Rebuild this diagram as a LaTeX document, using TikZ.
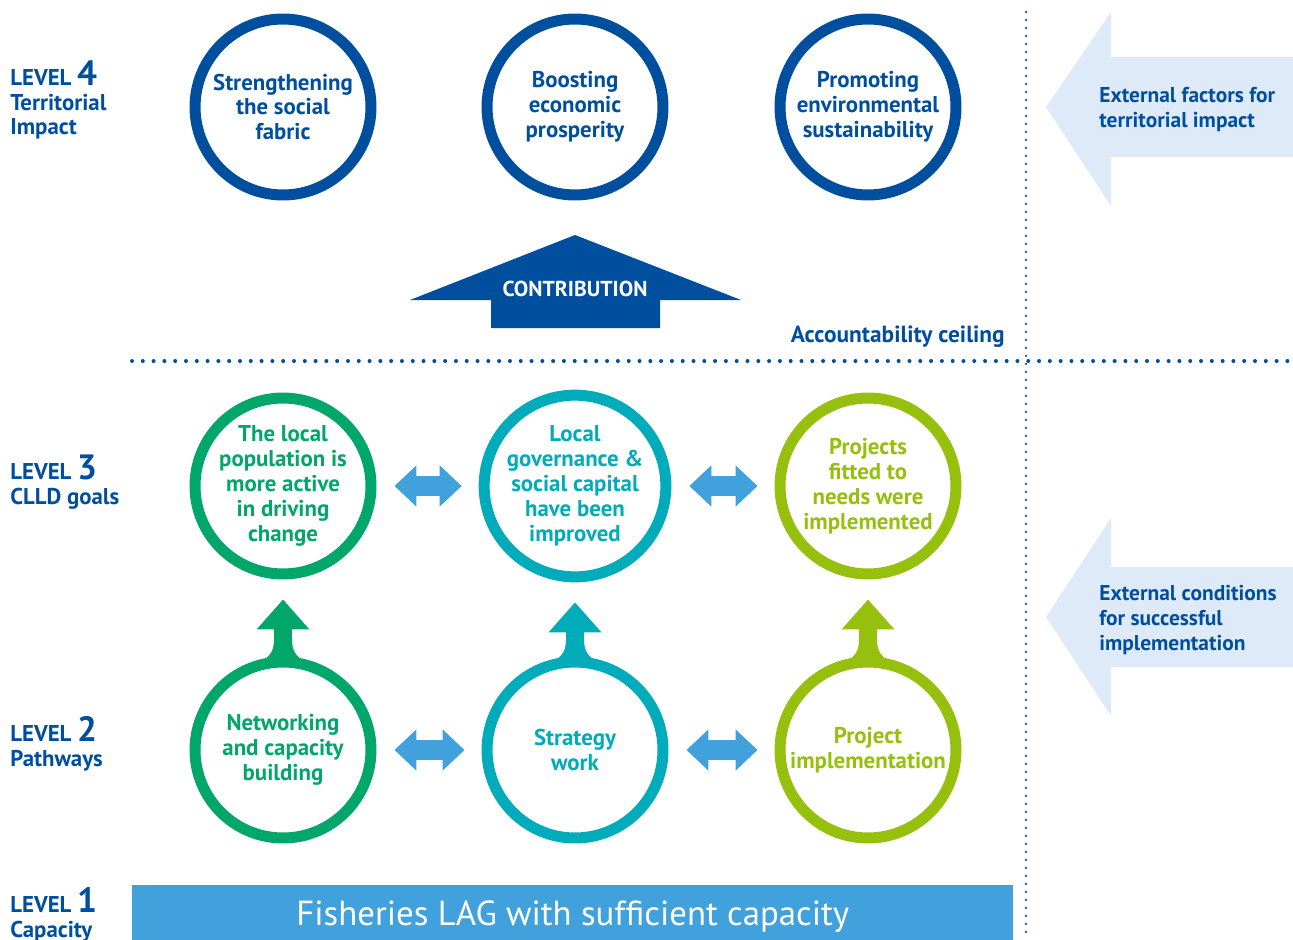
\documentclass[tikz,border=0pt]{standalone}
\usepackage{fontspec}
\setmainfont{PT Sans}
\usepackage{tikz}
\usetikzlibrary{arrows.meta}

\definecolor{darkBlue}{RGB}{0,79,159}
\definecolor{goalGreen}{RGB}{0,166,106}
\definecolor{goalTeal}{RGB}{0,172,185}
\definecolor{goalLime}{RGB}{151,191,13}
\definecolor{swapBlue}{RGB}{64,161,221}
\definecolor{paleBlue}{RGB}{223,234,248}

\begin{document}
\begin{tikzpicture}[x=0.02cm,y=-0.02cm]
    \tikzstyle{every node} = [font=\bfseries\fontsize{13}{14.2}\selectfont, align=center, inner sep=0pt]
    \tikzstyle{goal} = [draw, circle, line width=0.22cm, minimum size=3.52cm]
    \tikzstyle{level} = [anchor=base west, align=left, text=darkBlue, font=\bfseries\fontsize{13}{14}\selectfont]
    \tikzstyle{swap} = [draw=swapBlue, line width=0.4cm, {Triangle[width=0.8cm,length=0.44cm]}-{Triangle[width=0.8cm,length=0.44cm]}, shorten <=0.36cm, shorten >=0.34cm]
    \tikzstyle{lift} = [line width=0.36cm, -{Triangle[width=1.02cm,length=0.6cm]}, shorten >=0.4cm]
    \newcommand{\levelnum}[1]{{\fontsize{20}{14}\selectfont #1}}
    \useasboundingbox (0,0) rectangle (1293,939);

    % dotted separators
    \draw[darkBlue, line width=0.05cm, line cap=round, dash pattern=on 0pt off 0.16cm] (1026,12) -- (1026,939);
    \draw[darkBlue, line width=0.08cm, line cap=round, dash pattern=on 0pt off 0.216cm] (132,361) -- (1293,361);

    % external arrows
    \fill[paleBlue] (1046,107) -- (1111,12) -- (1111,57) -- (1293,57) -- (1293,157) -- (1111,157) -- (1111,206) -- cycle;
    \fill[paleBlue] (1046,617) -- (1111,518) -- (1111,567) -- (1293,567) -- (1293,667) -- (1111,667) -- (1111,716) -- cycle;
    \node[anchor=west, align=left, text=darkBlue, font=\bfseries\fontsize{12.2}{14.2}\selectfont](extFactors) at (1099,110){External factors for\\territorial impact};
    \node[anchor=west, align=left, text=darkBlue, font=\bfseries\fontsize{12.2}{14.2}\selectfont](extConditions) at (1099,620){External conditions\\for successful\\implementation};

    % level labels (anchored on the last line)
    \node[level](level4) at (10,135){LEVEL \levelnum{4}\\Territorial\\Impact};
    \node[level](level3) at (10,504){LEVEL \levelnum{3}\\CLLD goals};
    \node[level](level2) at (10,766){LEVEL \levelnum{2}\\Pathways};
    \node[level](level1) at (10,937){LEVEL \levelnum{1}\\Capacity};

    % level 4 circles
    \node[goal,draw=darkBlue,text=darkBlue](socialFabric) at (283,107){Strengthening\\the social\\fabric};
    \node[goal,draw=darkBlue,text=darkBlue](econProsperity) at (575,107){Boosting\\economic\\prosperity};
    \node[goal,draw=darkBlue,text=darkBlue](envSustain) at (868,107){Promoting\\environmental\\sustainability};

    % contribution arrow
    \fill[darkBlue] (410,300) -- (575,235) -- (741,300) -- (660,300) -- (660,328) -- (491,328) -- (491,300) -- cycle;
    \node[text=white, font=\bfseries\fontsize{12.3}{14}\selectfont](contribution) at (575,289){CONTRIBUTION};
    \node[anchor=base east, text=darkBlue, font=\bfseries\fontsize{13.3}{16}\selectfont](ceiling) at (1005,342){Accountability ceiling};

    % level 3 circles
    \node[goal,draw=goalGreen,text=goalGreen](popActive) at (283,486){The local\\population is\\more active\\in driving\\change};
    \node[goal,draw=goalTeal,text=goalTeal](localGov) at (575,486){Local\\governance \&\\social capital\\have been\\improved};
    \node[goal,draw=goalLime,text=goalLime](projectsFitted) at (868,486){Projects\\fitted to\\needs were\\implemented};

    % level 2 circles
    \node[goal,draw=goalGreen,text=goalGreen](netwCapacity) at (283,750){Networking\\and capacity\\building};
    \node[goal,draw=goalTeal,text=goalTeal](strategyWork) at (575,750){Strategy\\work};
    \node[goal,draw=goalLime,text=goalLime](projectImpl) at (868,750){Project\\implementation};

    % Connections
    \draw[swap] (popActive) -- (localGov);
    \draw[swap] (localGov) -- (projectsFitted);
    \draw[swap] (netwCapacity) -- (strategyWork);
    \draw[swap] (strategyWork) -- (projectImpl);

    \draw[lift,goalGreen] (netwCapacity.north) -- (popActive.south);
    \draw[lift,goalTeal] (strategyWork.north) -- (localGov.south);
    \draw[lift,goalLime] (projectImpl.north) -- (projectsFitted.south);
    \foreach \n/\c in {netwCapacity/goalGreen, strategyWork/goalTeal, projectImpl/goalLime}
      \fill[\c, shift={(\n.north)}] (-24,6) .. controls (-12,0) and (-9,-6) .. (-9,-18) -- (9,-18) .. controls (9,-6) and (12,0) .. (24,6) -- cycle;

    % capacity bar, running off the bottom edge
    \node[anchor=north west, fill=swapBlue, minimum width=17.62cm, minimum height=1.24cm, text=white, font=\fontsize{19.8}{22}\selectfont](lagBar) at (132,885){Fisheries LAG with sufficient capacity};
  \end{tikzpicture}
\end{document}
